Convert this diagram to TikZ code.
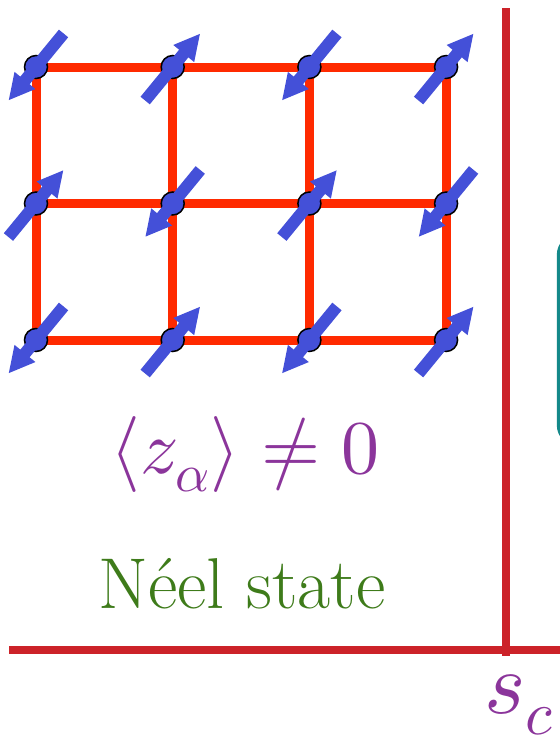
\documentclass[tikz,border=0pt]{standalone}
\usepackage{fontspec}
\usepackage{unicode-math}
\setmathfont{Latin Modern Math}
\usetikzlibrary{arrows.meta,calc}
\definecolor{Bond}{HTML}{FF2A00}
\definecolor{Spin}{HTML}{4450D8}
\definecolor{Axis}{HTML}{CC2229}
\definecolor{Teal}{HTML}{14898A}
\definecolor{Purple}{HTML}{8B359B}
\definecolor{Green}{HTML}{3E7B1A}
\tikzset{
  bond/.style={draw=Bond,line width=4.5pt},
  site/.style={circle,draw=black,fill=Spin,line width=.75pt,minimum size=11.5pt,inner sep=0pt},
  spin/.style={-{Triangle[width=12.5pt,length=13pt]},draw=Spin,fill=Spin,line width=6pt},
  axis/.style={draw=Axis,line width=4pt},
  label/.style={anchor=base,inner sep=0pt}
}
\begin{document}
\begin{tikzpicture}[x=.5pt,y=-.5pt]
  \clip (0,0) rectangle (560,739);
  % lattice points
  \foreach \i in {0,...,3}
    \foreach \j in {0,1,2}
      \coordinate (p-\i-\j) at ({36+136.7*\i},{67+136.5*\j});
  % bonds
  \foreach \j in {0,1,2}
    \draw[bond] (p-0-\j) -- (p-3-\j);
  \foreach \i in {0,...,3}
    \draw[bond] (p-\i-0) -- (p-\i-2);
  % sites and spins
  \foreach \i in {0,...,3}
    \foreach \j in {0,1,2} {
      \node[site] (s-\i-\j) at (p-\i-\j) {};
      \pgfmathsetmacro\ang{mod(\i+\j,2)==0 ? 129.4 : -50.6}
      \draw[spin] ($(s-\i-\j.center)+(\ang+180:43.4)$) -- ($(s-\i-\j.center)+(\ang:43.4)$);
    }
  \node[label,text=Purple,font=\fontsize{38}{44}\selectfont] (order) at (245,473)
    {$\langle z_\alpha\rangle\neq 0$};
  \node[label,text=Green,font=\fontsize{36}{42}\selectfont] (phase) at (242,608) {Néel state};
  % axes
  \coordinate (v-top) at (506,8);
  \coordinate (v-bot) at (506,656);
  \coordinate (h-left) at (9,650);
  \coordinate (h-right) at (560,650);
  \draw[axis] (v-top) -- (v-bot);
  \draw[axis] (h-left) -- (h-right);
  \node[label,anchor=base west,text=Purple,font=\fontsize{44}{52}\selectfont] (sc) at (484,713) {$s_c$};
  % next panel, cut off
  \draw[draw=Teal,line width=1.7pt,rounded corners=10pt] (558.5,235) rectangle (700,445);
\end{tikzpicture}
\end{document}
